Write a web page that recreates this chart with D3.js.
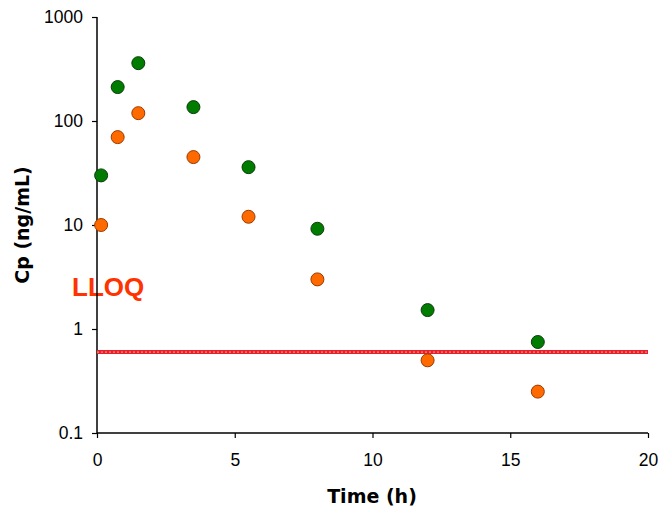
<!DOCTYPE html>
<html>
<head>
<meta charset="utf-8">
<script src="https://cdn.jsdelivr.net/npm/d3@7"></script>
<style>
  body { margin: 0; background: #fff; }
  svg { display: block; }
</style>
</head>
<body>
<script>
const times = [0.15, 0.75, 1.5, 3.5, 5.5, 8, 12, 16];
const greenVals = [30, 212, 360, 136, 36, 9.2, 1.52, 0.75];
const orangeVals = [10, 70, 119, 45, 12, 3.0, 0.5, 0.25];
const lloq = 0.6;
const xTicks = [0, 5, 10, 15, 20];
const yTicks = [0.1, 1, 10, 100, 1000];

const w = 661, h = 511;
const svg = d3.select('body').append('svg')
  .attr('width', w).attr('height', h);

const x = d3.scaleLinear().domain([0, 20]).range([97, 648]);
const y = d3.scaleLog().domain([0.1, 1000]).range([433, 17]);

// LLOQ label sits under the axis line
svg.append('text')
  .attr('x', 72).attr('y', 296)
  .attr('fill', '#ff3300')
  .style('font-family', 'Liberation Sans, Arial, sans-serif')
  .style('font-weight', 'bold')
  .style('font-size', '26px')
  .text('LLOQ');

const xAxis = d3.axisBottom(x).tickValues(xTicks).tickSize(5).tickFormat(d3.format('d'));
const yAxis = d3.axisLeft(y).tickValues(yTicks).tickSize(5).tickFormat(d => d);

const gx = svg.append('g').attr('transform', 'translate(0,433)').call(xAxis);
const gy = svg.append('g').attr('transform', 'translate(97,0)').call(yAxis);

[gx, gy].forEach(g => {
  g.select('.domain').attr('stroke', '#000').attr('stroke-width', 1.5);
  g.selectAll('.tick line').attr('stroke', '#000').attr('stroke-width', 1.2);
  g.selectAll('.tick text')
    .attr('fill', '#000')
    .style('font-family', 'Liberation Sans, Arial, sans-serif')
    .style('font-size', '17.5px');
});
gx.selectAll('.tick text').attr('dy', '1.45em');
gy.selectAll('.tick text').attr('x', -14);
gx.select('.domain').attr('d', 'M97,0H648');
gy.select('.domain').attr('d', 'M0,433V17');

// LLOQ line
svg.append('line')
  .attr('x1', x(0)).attr('x2', x(20))
  .attr('y1', y(lloq)).attr('y2', y(lloq))
  .attr('stroke', '#e8202a').attr('stroke-width', 4);
svg.append('line')
  .attr('x1', x(0)).attr('x2', x(20))
  .attr('y1', y(lloq)).attr('y2', y(lloq))
  .attr('stroke', '#f58a8a').attr('stroke-width', 1.2)
  .attr('stroke-dasharray', '2,2');

const series = [
  {vals: greenVals, fill: '#007d00', stroke: '#0a3d0a'},
  {vals: orangeVals, fill: '#ff6a00', stroke: '#9a3a00'}
];
series.forEach(s => {
  svg.append('g').selectAll('circle')
    .data(times.map((t, i) => ({t: t, v: s.vals[i]})))
    .enter().append('circle')
    .attr('cx', d => x(d.t))
    .attr('cy', d => y(d.v))
    .attr('r', 6.5)
    .attr('fill', s.fill)
    .attr('stroke', s.stroke)
    .attr('stroke-width', 1);
});

svg.append('text')
  .attr('x', 372).attr('y', 503)
  .attr('text-anchor', 'middle')
  .style('font-family', 'DejaVu Sans, Verdana, sans-serif')
  .style('font-weight', 'bold')
  .style('font-size', '19px')
  .text('Time (h)');

svg.append('text')
  .attr('transform', 'translate(29,225) rotate(-90)')
  .attr('text-anchor', 'middle')
  .style('font-family', 'DejaVu Sans, Verdana, sans-serif')
  .style('font-weight', 'bold')
  .style('font-size', '19px')
  .text('Cp (ng/mL)');
</script>
</body>
</html>
